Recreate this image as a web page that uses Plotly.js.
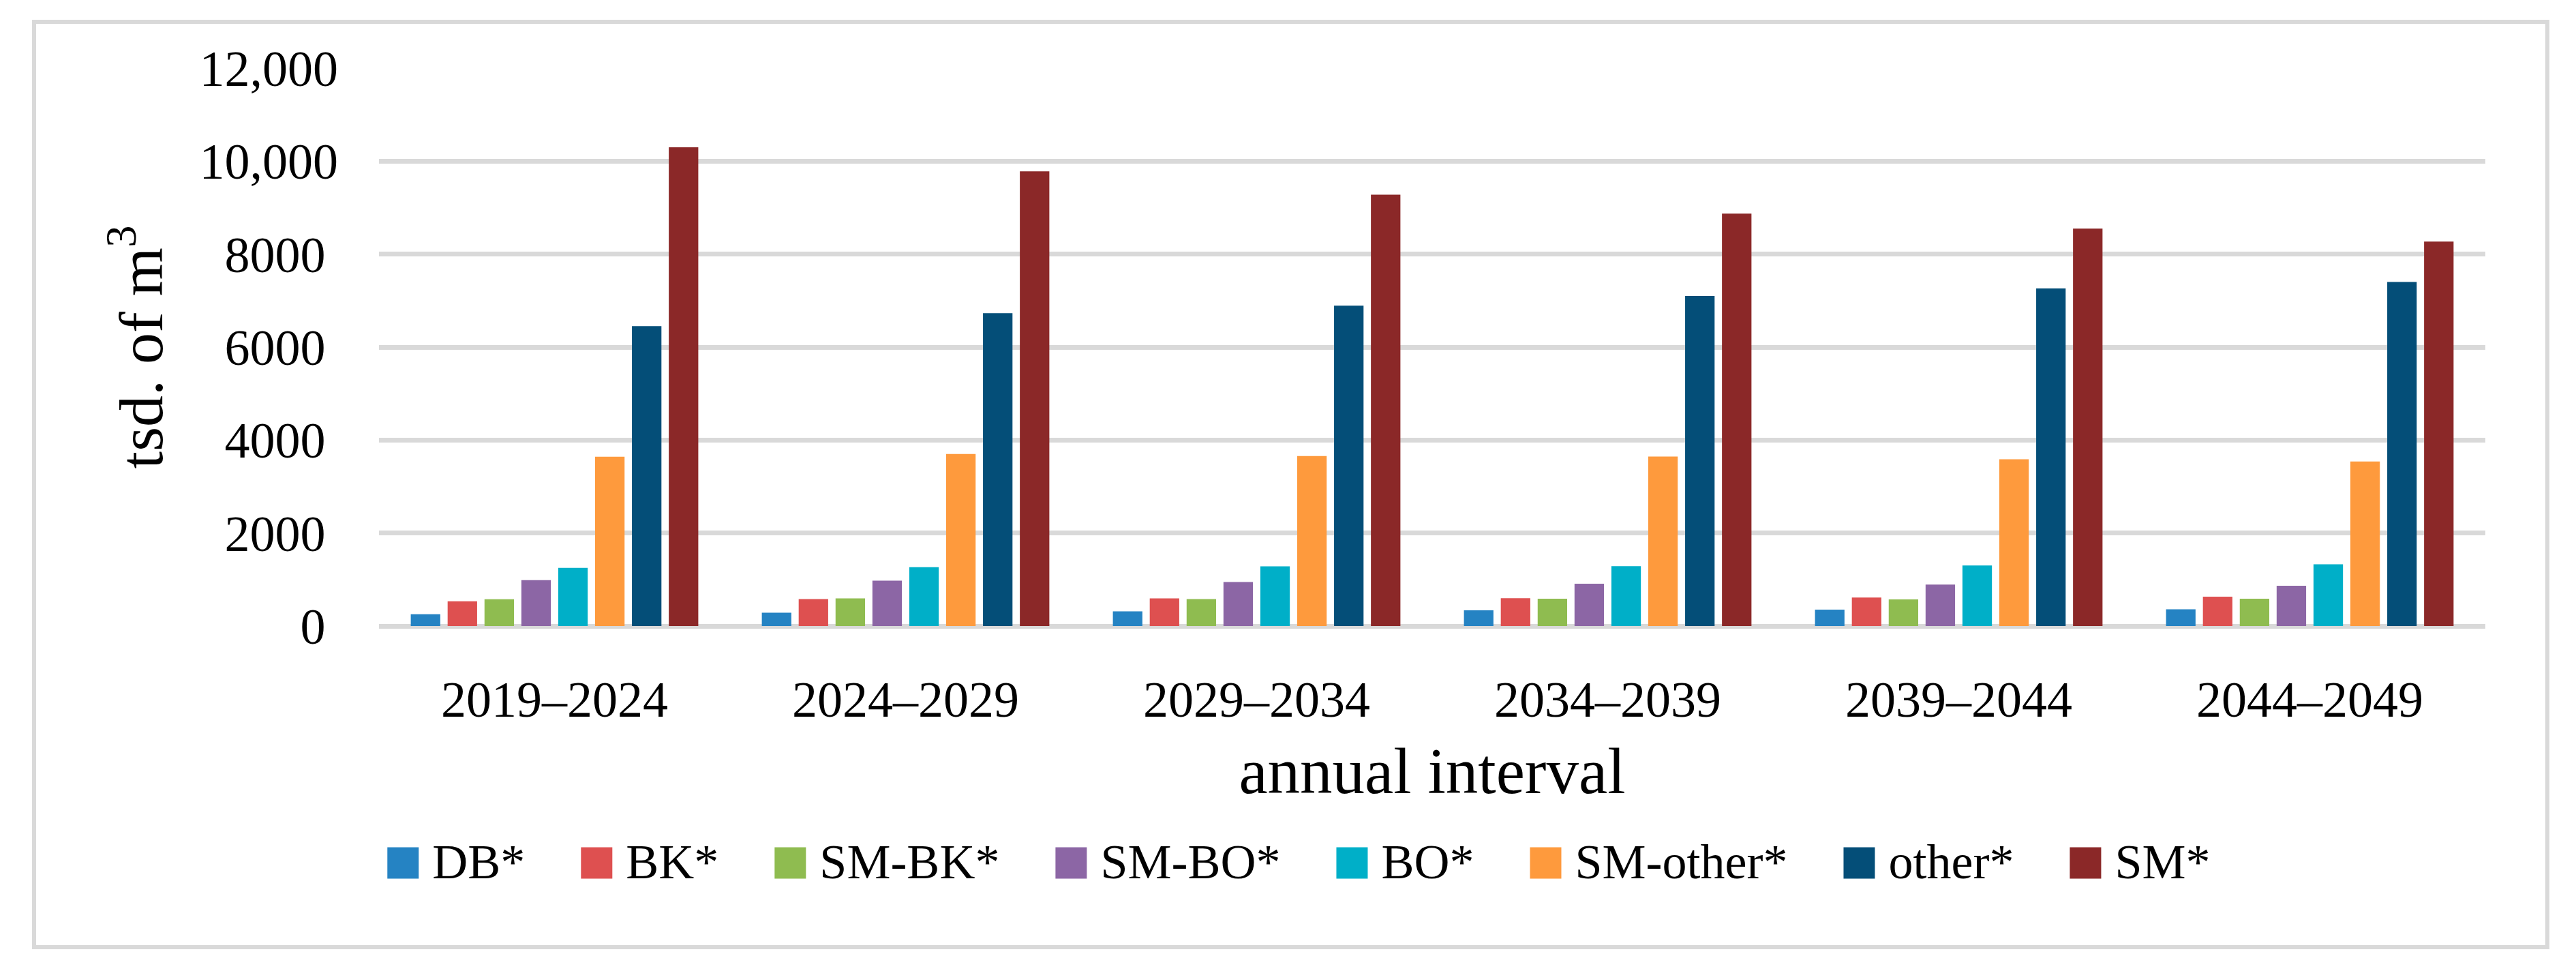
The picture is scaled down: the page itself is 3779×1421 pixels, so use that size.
<!DOCTYPE html>
<html>
<head>
<meta charset="utf-8">
<script src="https://cdn.plot.ly/plotly-3.0.1.min.js"></script>
<style>
  html, body { margin: 0; padding: 0; background: #ffffff; }
  #chart { width: 3779px; height: 1421px; }
</style>
</head>
<body>
<div id="chart"></div>
<script>
// ---- data ----
const categories = ['2019–2024', '2024–2029', '2029–2034', '2034–2039', '2039–2044', '2044–2049'];
const seriesNames = ['DB*', 'BK*', 'SM-BK*', 'SM-BO*', 'BO*', 'SM-other*', 'other*', 'SM*'];
const DB       = [252, 286, 315, 336, 353, 361];
const BK       = [532, 579, 594, 597, 613, 630];
const SM_BK    = [575, 594, 579, 588, 571, 588];
const SM_BO    = [985, 974, 945, 908, 891, 866];
const BO       = [1250, 1267, 1282, 1286, 1302, 1328];
const SM_other = [3640, 3700, 3656, 3647, 3588, 3538];
const other    = [6450, 6730, 6890, 7100, 7260, 7400];
const SM       = [10300, 9780, 9280, 8870, 8550, 8270];
const yTickVals = [0, 2000, 4000, 6000, 8000, 10000, 12000];
const yTickText = ['0\u00a0', '2000\u00a0', '4000\u00a0', '6000\u00a0', '8000\u00a0', '10,000', '12,000'];

// ---- styles ----
const colors = ['#2583c3', '#de5050', '#8fbc50', '#8c66a5', '#00afc8', '#fe9a3d', '#044e78', '#8b2828'];
const seriesValues = [DB, BK, SM_BK, SM_BO, BO, SM_other, other, SM];
const FONT = '"Palatino Linotype", Palatino, "Book Antiqua", "Liberation Serif", serif';
const GRID = '#d9d9d9';
const LEGEND_FONT_SIZE = 72;

const traces = seriesValues.map((vals, i) => ({
  type: 'bar',
  name: seriesNames[i],
  x: categories,
  y: vals,
  marker: { color: colors[i], line: { width: 0 } }
}));

const layout = {
  width: 3779,
  height: 1421,
  margin: { l: 556, r: 133, t: 100, b: 503, pad: 0 },
  paper_bgcolor: '#ffffff',
  plot_bgcolor: '#ffffff',
  font: { family: FONT, color: '#000000', size: 74 },
  barmode: 'group',
  bargap: 0.16,
  bargroupgap: 0.2,
  showlegend: true,
  legend: {
    orientation: 'h',
    xref: 'container',
    yref: 'container',
    x: 0.13,
    xanchor: 'left',
    y: 0.113,
    yanchor: 'middle',
    font: { family: FONT, size: LEGEND_FONT_SIZE, color: '#000000' },
    itemwidth: 133,
    bgcolor: 'rgba(0,0,0,0)',
    traceorder: 'normal'
  },
  xaxis: {
    type: 'category',
    showgrid: false,
    showline: false,
    zeroline: false,
    ticks: '',
    tickfont: { family: FONT, size: 74, color: '#000000' },
    ticklabelstandoff: 58,
    title: { text: 'annual interval', font: { family: FONT, size: 95, color: '#000000' }, standoff: 30 }
  },
  yaxis: {
    range: [0, 12000],
    tickvals: yTickVals,
    ticktext: yTickText,
    showgrid: true,
    gridcolor: GRID,
    gridwidth: 7,
    zeroline: true,
    zerolinecolor: GRID,
    zerolinewidth: 7,
    showline: false,
    ticks: '',
    tickfont: { family: FONT, size: 74, color: '#000000' },
    ticklabelstandoff: 59,
    title: { text: 'tsd. of m<sup>3</sup>', font: { family: FONT, size: 92, color: '#000000' }, standoff: 23 }
  },
  shapes: [{
    type: 'rect',
    xref: 'paper', yref: 'paper',
    x0: -0.16375, x1: 1.02945,
    y0: -0.5758, y1: 1.0831,
    line: { color: GRID, width: 6 },
    fillcolor: 'rgba(0,0,0,0)',
    layer: 'below'
  }]
};

// Enlarge the legend colour keys to the reference's square size (46 px),
// placed 20 px left of each legend label, bottom on the text baseline.
function enlargeLegendSymbols() {
  document.querySelectorAll('#chart g.legend g.traces').forEach(g => {
    const text = g.querySelector('text.legendtext');
    const path = g.querySelector('g.legendpoints path');
    if (!text || !path) return;
    const tb = text.getBoundingClientRect();
    const ctm = path.getScreenCTM();
    if (!ctm) return;
    const inv = ctm.inverse();
    const svg = path.ownerSVGElement;
    const toLocal = (sx, sy) => {
      const pt = svg.createSVGPoint();
      pt.x = sx; pt.y = sy;
      return pt.matrixTransform(inv);
    };
    const baseline = tb.top + 0.891 * LEGEND_FONT_SIZE;
    const right = tb.left - 20;
    const left = right - 46;
    const p0 = toLocal(left, baseline - 46);
    const p1 = toLocal(right, baseline);
    path.setAttribute('d', 'M' + p0.x + ',' + p0.y + 'H' + p1.x + 'V' + p1.y + 'H' + p0.x + 'Z');
  });
}

const gd = document.getElementById('chart');
Plotly.newPlot(gd, traces, layout, { displayModeBar: false, staticPlot: true }).then(() => {
  enlargeLegendSymbols();
  gd.on('plotly_afterplot', enlargeLegendSymbols);
  setTimeout(enlargeLegendSymbols, 50);
  setTimeout(enlargeLegendSymbols, 300);
});
</script>
</body>
</html>
